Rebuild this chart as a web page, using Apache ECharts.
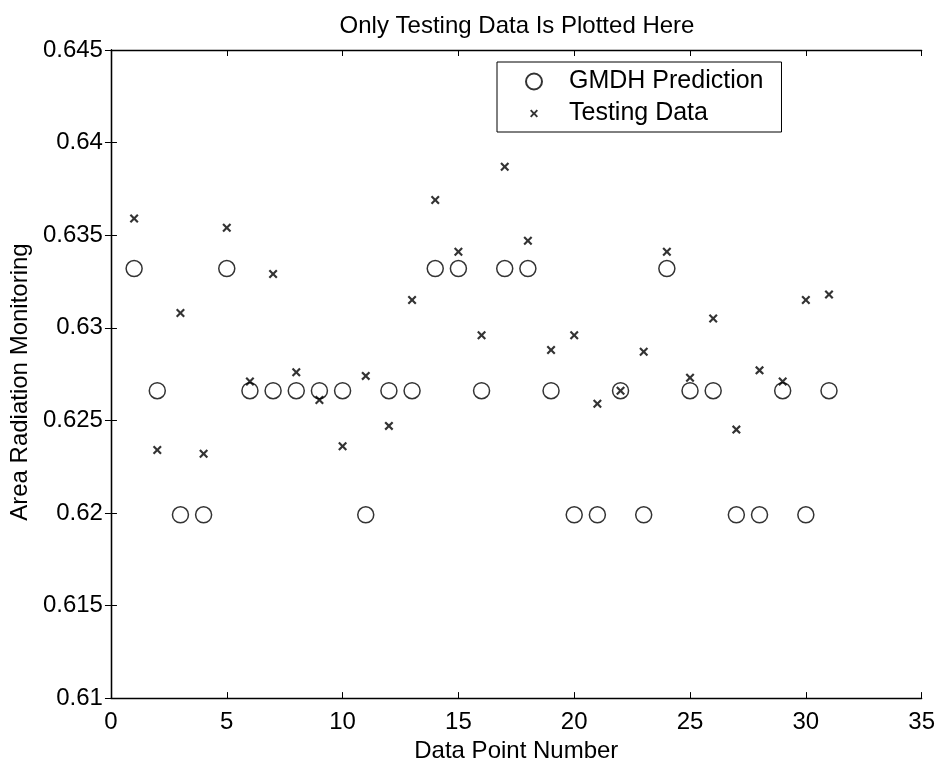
<!DOCTYPE html>
<html>
<head>
<meta charset="utf-8">
<script src="https://cdn.jsdelivr.net/npm/echarts@6/dist/echarts.min.js"></script>
<style>
  html, body { margin: 0; padding: 0; background: #fff; }
  #chart { width: 938px; height: 768px; }
</style>
</head>
<body>
<div id="chart"></div>
<script>
// data point numbers on the x axis
var pointNo = [1, 2, 3, 4, 5, 6, 7, 8, 9, 10, 11, 12, 13, 14, 15, 16, 17, 18, 19, 20, 21, 22, 23, 24, 25, 26, 27, 28, 29, 30, 31];
// GMDH model output (circles)
var gmdhPrediction = [0.6332, 0.6266, 0.6199, 0.6199, 0.6332, 0.6266, 0.6266, 0.6266, 0.6266, 0.6266, 0.6199, 0.6266, 0.6266, 0.6332, 0.6332, 0.6266,
  0.6332, 0.6332, 0.6266, 0.6199, 0.6199, 0.6266, 0.6199, 0.6332, 0.6266, 0.6266, 0.6199, 0.6199, 0.6266, 0.6199, 0.6266];
// measured testing values (crosses)
var testingData = [0.6359, 0.6234, 0.6308, 0.6232, 0.6354, 0.6271, 0.6329, 0.6276, 0.6261, 0.6236, 0.6274, 0.6247, 0.6315, 0.6369, 0.6341, 0.6296,
  0.6387, 0.6347, 0.6288, 0.6296, 0.6259, 0.6266, 0.6287, 0.6341, 0.6273, 0.6305, 0.6245, 0.6277, 0.6271, 0.6315, 0.6318];
var xTicks = [0, 35, 5];        // min, max, step
var yTicks = [0.61, 0.645, 0.005];

var FONT = 'Liberation Sans, Arial, sans-serif';
var crossPath = 'path://M0,1.7L1.7,0L5,3.3L8.3,0L10,1.7L6.7,5L10,8.3L8.3,10L5,6.7L1.7,10L0,8.3L3.3,5Z';
// same cross with empty margin so the legend icon stays small
var crossIcon = 'path://M-5,-5M0,1.7L1.7,0L5,3.3L8.3,0L10,1.7L6.7,5L10,8.3L8.3,10L5,6.7L1.7,10L0,8.3L3.3,5ZM15,15';

function pairs(ys) {
  return pointNo.map(function (x, i) { return [x, ys[i]]; });
}
function yFmt(v) { return String(parseFloat(v.toFixed(3))); }

var axisLine = { show: true, lineStyle: { color: '#000', width: 1.3 } };
var tickIn = { show: true, inside: true, length: 6, lineStyle: { color: '#000', width: 1 } };

var option = {
  backgroundColor: '#fff',
  animation: false,
  title: {
    text: 'Only Testing Data Is Plotted Here',
    left: 512, top: 9, textAlign: 'center',
    textStyle: { fontFamily: FONT, fontSize: 24, fontWeight: 'normal', color: '#000' }
  },
  legend: {
    orient: 'vertical',
    left: 497, top: 62,
    padding: [7, 18, 6, 28],
    itemGap: 7,
    itemWidth: 60, itemHeight: 16,
    borderColor: '#000', borderWidth: 1,
    backgroundColor: '#fff',
    selectedMode: false,
    textStyle: { fontFamily: FONT, fontSize: 25, color: '#000', lineHeight: 24 },
    data: [
      { name: 'GMDH Prediction', icon: 'circle' },
      { name: 'Testing Data', icon: crossIcon }
    ]
  },
  grid: { left: 110, top: 50, right: 16, bottom: 66 },
  xAxis: [
    {
      type: 'value', min: xTicks[0], max: xTicks[1], interval: xTicks[2],
      name: 'Data Point Number', nameLocation: 'middle', nameGap: 38,
      nameTextStyle: { fontFamily: FONT, fontSize: 24, color: '#000' },
      axisLine: axisLine, axisTick: tickIn, splitLine: { show: false },
      axisLabel: { fontFamily: FONT, fontSize: 24, color: '#000', margin: 12 }
    },
    {
      type: 'value', position: 'top', min: xTicks[0], max: xTicks[1], interval: xTicks[2],
      axisLine: axisLine, axisTick: tickIn, splitLine: { show: false },
      axisLabel: { show: false }
    }
  ],
  yAxis: [
    {
      type: 'value', min: yTicks[0], max: yTicks[1], interval: yTicks[2],
      name: 'Area Radiation Monitoring', nameLocation: 'middle', nameGap: 76,
      nameTextStyle: { fontFamily: FONT, fontSize: 24, color: '#000', padding: [0, 16, 0, 0] },
      axisLine: axisLine, axisTick: tickIn, splitLine: { show: false },
      axisLabel: { fontFamily: FONT, fontSize: 24, color: '#000', margin: 8, formatter: yFmt }
    },
    {
      type: 'value', position: 'right', min: yTicks[0], max: yTicks[1], interval: yTicks[2],
      axisLine: axisLine, axisTick: tickIn, splitLine: { show: false },
      axisLabel: { show: false }
    }
  ],
  series: [
    {
      name: 'GMDH Prediction',
      type: 'scatter',
      symbol: 'circle',
      symbolSize: 16,
      itemStyle: { color: 'rgba(0,0,0,0)', borderColor: '#000', borderWidth: 1.5 },
      data: pairs(gmdhPrediction)
    },
    {
      name: 'Testing Data',
      type: 'scatter',
      symbol: crossPath,
      symbolSize: 9,
      itemStyle: { color: '#000' },
      data: pairs(testingData)
    }
  ]
};

var myChart = echarts.init(document.getElementById('chart'));
myChart.setOption(option);
</script>
</body>
</html>
